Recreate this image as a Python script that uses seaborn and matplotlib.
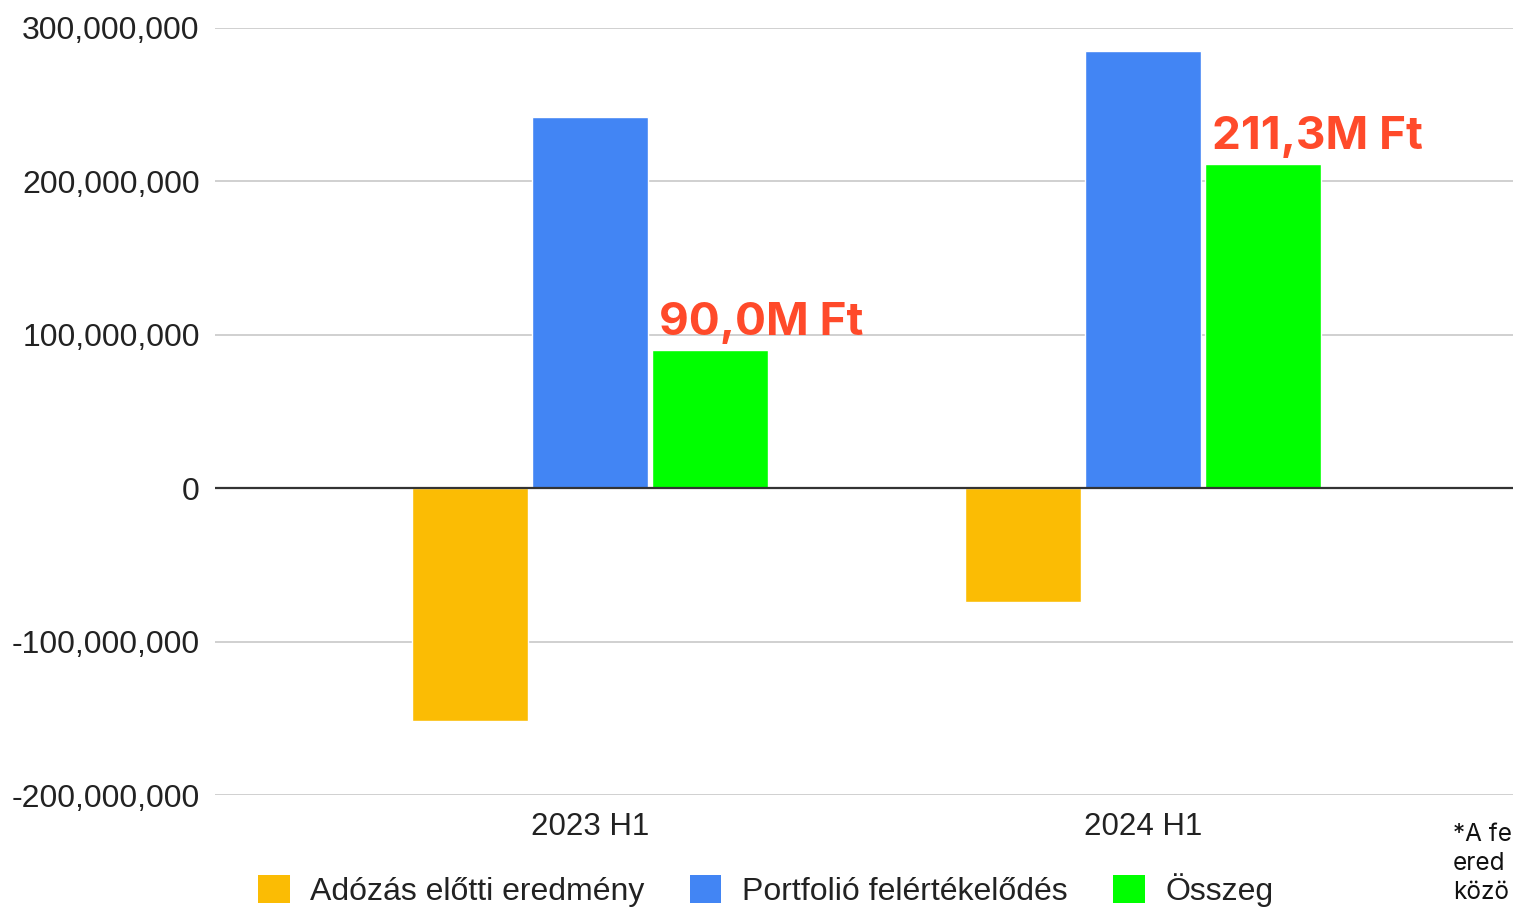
import pandas as pd
import seaborn as sns
import matplotlib.pyplot as plt
from matplotlib.ticker import FuncFormatter, MultipleLocator
from matplotlib.patches import Patch

# --- DATA ---
periods = ["2023 H1", "2024 H1"]
series_names = ["Adózás előtti eredmény", "Portfolió felértékelődés", "Összeg"]
pretax = [-152_000_000, -74_000_000]
portfolio = [242_000_000, 285_300_000]
total = [90_000_000, 211_300_000]
total_labels = ["90,0M Ft", "211,3M Ft"]
note_lines = ["*A fe", "ered", "közö"]

colors = ["#FBBC04", "#4285F4", "#00FF00"]

df = pd.DataFrame({
    "period": periods * 3,
    "series": [series_names[0]] * 2 + [series_names[1]] * 2 + [series_names[2]] * 2,
    "value": pretax + portfolio + total,
})

sns.set_theme(style="white")
plt.rcParams["font.family"] = ["Liberation Sans", "DejaVu Sans"]

fig = plt.figure(figsize=(15.13, 9.09), dpi=100)
ax = fig.add_axes([0.1421, 0.1254, 0.8579, 0.8438])

sns.barplot(data=df, x="period", y="value", hue="series", palette=colors,
            width=0.65, gap=0.035, saturation=1, ax=ax, legend=False)

ax.set_ylim(-200_000_000, 300_000_000)
ax.set_xlim(-0.678, 1.669)
ax.yaxis.set_major_locator(MultipleLocator(100_000_000))
ax.yaxis.set_major_formatter(FuncFormatter(lambda v, p: f"{v:,.0f}"))
ax.grid(axis="y", color="#D0D0D0", linewidth=1.4)
ax.set_axisbelow(True)
ax.axhline(0, color="#333333", linewidth=1.6, zorder=3)
for s in ax.spines.values():
    s.set_visible(False)
ax.set_xlabel("")
ax.set_ylabel("")
ax.tick_params(axis="y", length=0, pad=11, labelsize=23, labelcolor="#222222")
ax.tick_params(axis="x", length=0, pad=12, labelsize=22.5, labelcolor="#222222")

# labels above the "Összeg" bars
green_bars = ax.containers[2]
for bar, txt in zip(green_bars, total_labels):
    ax.annotate(txt, (bar.get_x(), bar.get_height()), xytext=(5, 11),
                textcoords="offset points", ha="left", va="baseline",
                fontsize=33, fontweight="bold", color="#FF4A2A",
                family=["Inter", "DejaVu Sans"])

handles = [Patch(facecolor=c, edgecolor="none") for c in colors]
fig.legend(handles, series_names, loc="center", bbox_to_anchor=(0.506, 0.021),
           ncol=3, frameon=False, fontsize=23, handlelength=1.0, handleheight=1.0,
           handletextpad=0.65, columnspacing=1.4, labelcolor="#222222")

fig.text(1453 / 1513, 1 - 823 / 909, "\n".join(note_lines), ha="left", va="top",
         fontsize=17.5, linespacing=1.32, color="#111111",
         family=["Inter", "DejaVu Sans"])

fig.savefig("out.png", dpi=100)
